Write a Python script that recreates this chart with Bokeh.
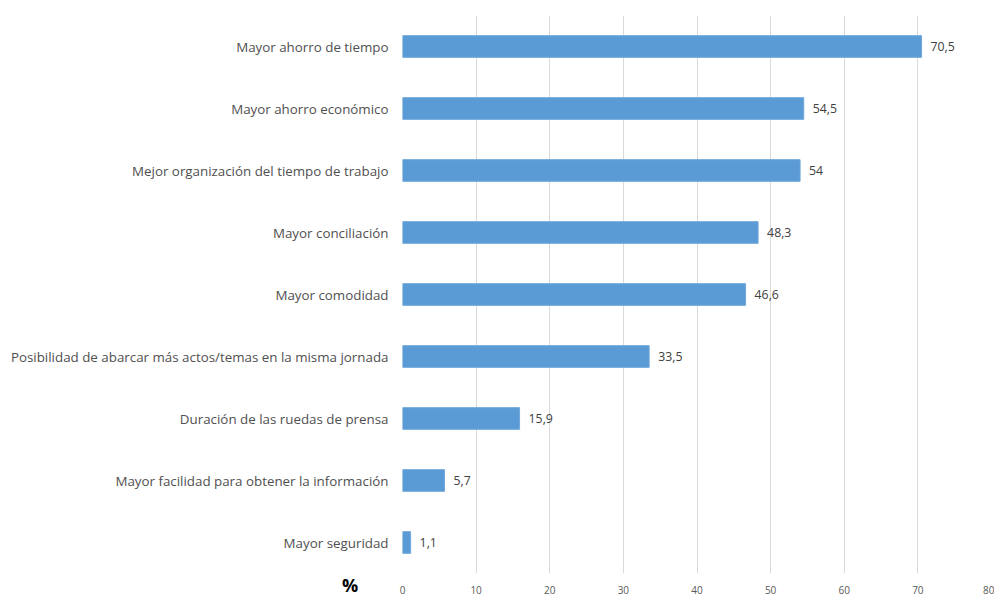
from bokeh.plotting import figure
from bokeh.models import FactorRange, Range1d, ColumnDataSource, FixedTicker, Div
from bokeh.layouts import column
from bokeh.embed import file_html
from bokeh.resources import INLINE

categories = [
    "Mayor ahorro de tiempo",
    "Mayor ahorro económico",
    "Mejor organización del tiempo de trabajo",
    "Mayor conciliación",
    "Mayor comodidad",
    "Posibilidad de abarcar más actos/temas en la misma jornada",
    "Duración de las ruedas de prensa",
    "Mayor facilidad para obtener la información",
    "Mayor seguridad",
]
values = [70.5, 54.5, 54, 48.3, 46.6, 33.5, 15.9, 5.7, 1.1]
x_ticks = [0, 10, 20, 30, 40, 50, 60, 70, 80]
unit_label = "%"

labels = [str(v).replace(".", ",") if v != int(v) else str(int(v)) for v in values]

src = ColumnDataSource(dict(cat=categories, val=values, lab=labels))

FONT = "Open Sans"
p = figure(
    width=994, height=596,
    y_range=FactorRange(factors=list(reversed(categories)), range_padding=0),
    x_range=Range1d(0, 80),
    output_backend="svg", toolbar_location=None,
    min_border_left=402, min_border_right=3, min_border_top=15, min_border_bottom=19,
)
p.outline_line_color = None
p.background_fill_color = "white"
p.border_fill_color = "white"

p.hbar(y="cat", right="val", left=0, height=0.35, source=src,
       fill_color="#5B9BD5", line_color="#6FA8DC", line_width=1)

p.text(x="val", y="cat", text="lab", source=src, x_offset=9,
       text_align="left", text_baseline="middle",
       text_font_size="12.3px", text_color="#404040",
       text_font={"value": FONT})

p.xaxis.ticker = FixedTicker(ticks=x_ticks)
p.xaxis.axis_line_color = None
p.xaxis.major_tick_line_color = None
p.xaxis.minor_tick_line_color = None
p.xaxis.major_label_text_font_size = "10px"
p.xaxis.major_label_text_color = "#595959"
p.xaxis.major_label_text_font = FONT
p.xaxis.major_label_standoff = 6

p.yaxis.axis_line_color = None
p.yaxis.major_tick_line_color = None
p.yaxis.minor_tick_line_color = None
p.yaxis.major_label_text_font_size = "13.35px"
p.yaxis.major_label_text_color = "#505050"
p.yaxis.major_label_text_font = FONT
p.yaxis.major_label_standoff = 8

p.xgrid.grid_line_color = "#D9D9D9"
p.xgrid.ticker = FixedTicker(ticks=x_ticks)
p.ygrid.grid_line_color = None

pct = Div(text=unit_label, width=24, height=20, styles={
    "position": "absolute", "left": "337px", "top": "570px",
    "font-size": "18px", "font-weight": "bold", "color": "#000000",
    "font-family": "Open Sans", "line-height": "20px", "z-index": "10",
})

layout = column(p, pct, spacing=0)

open("out.html", "w").write(file_html(layout, INLINE))
